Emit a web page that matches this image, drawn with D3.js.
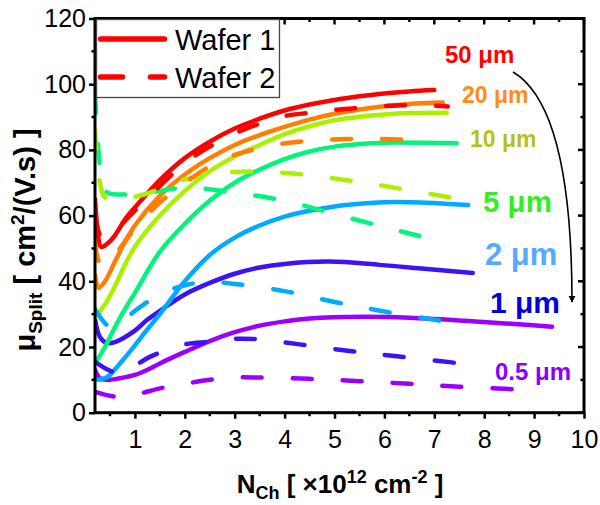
<!DOCTYPE html>
<html>
<head>
<meta charset="utf-8">
<script src="https://cdn.jsdelivr.net/npm/d3@7"></script>
<style>
  body { margin: 0; background: #fff; }
  svg { display: block; }
  text { font-family: "Liberation Sans", Arial, Helvetica, sans-serif; }
</style>
</head>
<body>
<svg id="chart" width="600" height="505"></svg>
<script>
// Split-CV mobility vs channel carrier density, two wafers, several gate widths
const xTickValues = [1, 2, 3, 4, 5, 6, 7, 8, 9, 10];
const yTickValues = [0, 20, 40, 60, 80, 100, 120];
const widthLabels = ["50 μm", "20 μm", "10 μm", "5 μm", "2 μm", "1 μm", "0.5 μm"];
const legendLabels = ["Wafer 1", "Wafer 2"];

// Wafer 1 (solid) — [N_ch (1e12 cm^-2), mobility (cm^2/V.s)]
const w1_50 = [[0.2,65],[0.25,56],[0.32,50.5],[0.45,51.5],[0.6,54],[0.8,58.8],[1,62.5],[1.5,70.8],[2,77.5],[2.5,82.5],[3,86.5],[3.5,89.5],[4,92],[4.5,93.8],[5,95.2],[5.5,96.3],[6,97.2],[6.5,97.8],[7,98.2]];
const w1_20 = [[0.2,42],[0.27,38],[0.4,40],[0.6,46],[0.8,52],[1,57],[1.5,66],[2,72.5],[2.5,77.5],[3,81.5],[3.5,84.5],[4,87],[4.5,89.2],[5,91],[5.5,92.3],[6,93.3],[6.5,94],[7.17,94.4]];
const w1_10 = [[0.2,29],[0.4,33],[0.6,38.5],[0.8,45],[1,50.5],[1.5,60],[2,67.5],[2.5,73.5],[3,78],[3.5,81.5],[4,84.8],[4.5,87.2],[5,89],[5.5,90.1],[6,90.8],[6.5,91.2],[7.25,91.3]];
const w1_5 = [[0.2,15],[0.4,20],[0.6,26],[0.8,31.5],[1,36.5],[1.5,49],[2,57.5],[2.5,64.5],[3,70],[3.5,74],[4,77.2],[4.5,79.5],[5,81],[5.5,81.8],[6,82.2],[7.45,82]];
const w1_2 = [[0.2,10],[0.44,10.8],[0.7,15],[1,20.5],[1.24,25.2],[1.5,30],[2,40],[2.5,48],[3,53.3],[3.5,57],[4,59.7],[4.5,61.5],[5,62.8],[5.5,63.6],[6,64.1],[6.5,64.1],[7,63.8],[7.68,63.2]];
const w1_1 = [[0.2,28.5],[0.3,23],[0.44,21.2],[0.6,21.5],[1,25],[1.24,28.2],[1.5,31],[2,36],[2.5,39.5],[3,42.3],[3.5,44.2],[4,45.3],[4.9,46],[5.9,45],[6.8,43.8],[7.77,42.5]];
const w1_05 = [[0.2,13],[0.3,10.5],[0.44,10],[0.7,10.5],[1,11.5],[1.24,13],[1.5,15],[2,18.5],[2.5,21.8],[3,24.5],[3.5,26.5],[4,27.8],[4.5,28.7],[5.6,29.2],[6.5,28.9],[7.9,27.7],[8.6,27],[9.36,26.2]];

// Wafer 2 (dashed)
const w2_50 = [[0.2,60],[0.35,53],[0.6,55.5],[1,61.5],[1.5,69],[2,76],[2.5,81],[3,85],[3.5,88],[4,90.3],[4.5,91.3],[5,92.2],[5.5,92.8],[6,93.3],[6.5,93.6],[7,93.5],[7.27,93.2]];
const w2_20 = [[0.2,52],[0.3,45.5],[0.45,45],[0.7,50],[1,56],[1.5,64],[2,70],[2.5,75],[3,78.5],[3.5,80.5],[4,82],[4.5,82.8],[5,83.2],[5.5,83.3],[6,83.3],[6.65,83]];
const w2_10 = [[0.2,86],[0.3,70],[0.4,65.5],[0.7,65],[1.2,66.5],[2,71],[3,73.3],[4,73],[5,71.3],[6,69],[7.4,65.3]];
const w2_5 = [[0.2,97],[0.3,75],[0.4,67.5],[1,66.5],[2,68.5],[3,67],[4,64.5],[5,60.5],[6,56.5],[6.9,53]];
const w2_2 = [[0.2,31.5],[0.5,26],[0.7,27],[1,31],[1.5,36],[2,38.8],[2.5,39.8],[3,39.2],[4,37],[5,33.7],[6,30.8],[7.25,27.7]];
const w2_1 = [[0.2,15.5],[0.6,12.3],[0.9,13.5],[1.3,17],[2,20.8],[2.5,21.6],[3,22.5],[3.5,22.3],[4.3,20.8],[5.3,18.8],[6.3,17.1],[7.65,14.8]];
const w2_05 = [[0.2,6.3],[0.6,4.9],[1,5.5],[1.5,7.4],[2,8.8],[2.5,10],[3,10.7],[3.5,10.7],[4.5,10.3],[5.5,9.6],[6.5,8.8],[7.5,7.9],[8.8,7]];

const lineColors = ["#ff0000", "#ff7f00", "#aaf000", "#00f57a", "#00aaff", "#3d12f5", "#9b00ff"];
const labelColors = ["#ff0000", "#ff8c1a", "#b4c31c", "#33ee22", "#55aaff", "#0000dd", "#8a00ff"];

const series = widthLabels.map((label, i) => ({
  label,
  lineColor: lineColors[i],
  labelColor: labelColors[i],
  wafer1: [w1_50, w1_20, w1_10, w1_5, w1_2, w1_1, w1_05][i],
  wafer2: [w2_50, w2_20, w2_10, w2_5, w2_2, w2_1, w2_05][i]
}));

// Layout
const plot = { left: 95, right: 584, top: 18.5, bottom: 412.7 };
const labelLayout = [
  { x: 445, y: 63, size: 24 },
  { x: 462, y: 103, size: 23 },
  { x: 470, y: 147, size: 23 },
  { x: 483, y: 212, size: 29.5 },
  { x: 485, y: 265, size: 31 },
  { x: 490, y: 313, size: 30 },
  { x: 495, y: 380, size: 24 }
];

const svg = d3.select("#chart");
const x = d3.scaleLinear().domain([0.2, 10]).range([plot.left, plot.right]);
const y = d3.scaleLinear().domain([0, 120]).range([plot.bottom, plot.top]);

const defs = svg.append("defs");
defs.append("clipPath").attr("id", "plotClip")
  .append("rect")
  .attr("x", plot.left).attr("y", plot.top)
  .attr("width", plot.right - plot.left).attr("height", plot.bottom - plot.top);

const line = d3.line()
  .x(d => x(d[0])).y(d => y(d[1]))
  .curve(d3.curveCatmullRom.alpha(0.5));

const curves = svg.append("g").attr("clip-path", "url(#plotClip)");
const strokeW = 4.5;

// solid (wafer 1) below, dashed (wafer 2) above
series.slice().reverse().forEach(s => {
  curves.append("path")
    .attr("d", line(s.wafer1))
    .attr("fill", "none")
    .attr("stroke", s.lineColor)
    .attr("stroke-width", strokeW)
    .attr("stroke-linecap", "round")
    .attr("stroke-linejoin", "round");
});
series.slice().reverse().forEach(s => {
  curves.append("path")
    .attr("d", line(s.wafer2))
    .attr("fill", "none")
    .attr("stroke", s.lineColor)
    .attr("stroke-width", strokeW)
    .attr("stroke-dasharray", "19,31")
    .attr("stroke-linecap", "round")
    .attr("stroke-linejoin", "round");
});

// Axes
const axisW = 3;
const xMinor = d3.range(0.5, 10, 0.5).filter(v => v % 1 !== 0);
const yMinor = d3.range(10, 120, 20);

const bottomAxis = d3.axisBottom(x).tickValues(xTickValues).tickSize(6).tickPadding(12).tickFormat(d3.format("d"));
const leftAxis = d3.axisLeft(y).tickValues(yTickValues).tickSize(6).tickPadding(3).tickFormat(d3.format("d"));

function styleAxis(g) {
  g.select(".domain").remove();
  g.selectAll(".tick line").attr("stroke", "#000").attr("stroke-width", 2.5);
  g.selectAll(".tick text").attr("fill", "#000").attr("font-size", 25)
    .style("font-family", "\"Liberation Sans\", Arial, sans-serif");
}

svg.append("g").attr("transform", `translate(0,${plot.bottom})`).call(bottomAxis).call(styleAxis);
svg.append("g").attr("transform", `translate(${plot.left},0)`).call(leftAxis).call(styleAxis);

// minor ticks (outward on bottom/left, inward on top/right)
const ticks = svg.append("g").attr("stroke", "#000").attr("stroke-width", 2.5);
xMinor.forEach(v => {
  ticks.append("line").attr("x1", x(v)).attr("x2", x(v)).attr("y1", plot.bottom).attr("y2", plot.bottom + 3.5);
  ticks.append("line").attr("x1", x(v)).attr("x2", x(v)).attr("y1", plot.top).attr("y2", plot.top + 3.5);
});
xTickValues.forEach(v => {
  ticks.append("line").attr("x1", x(v)).attr("x2", x(v)).attr("y1", plot.top).attr("y2", plot.top + 6);
});
yMinor.forEach(v => {
  ticks.append("line").attr("x1", plot.left).attr("x2", plot.left - 3.5).attr("y1", y(v)).attr("y2", y(v));
  ticks.append("line").attr("x1", plot.right).attr("x2", plot.right - 3.5).attr("y1", y(v)).attr("y2", y(v));
});
yTickValues.forEach(v => {
  ticks.append("line").attr("x1", plot.right).attr("x2", plot.right - 6).attr("y1", y(v)).attr("y2", y(v));
});

// frame
svg.append("rect")
  .attr("x", plot.left).attr("y", plot.top)
  .attr("width", plot.right - plot.left).attr("height", plot.bottom - plot.top)
  .attr("fill", "none").attr("stroke", "#000").attr("stroke-width", axisW);

// Legend
const legend = svg.append("g");
legend.append("rect")
  .attr("x", 96.5).attr("y", plot.top + 1)
  .attr("width", 183).attr("height", 78)
  .attr("fill", "#fff").attr("stroke", "#444").attr("stroke-width", 1.3);
legendLabels.forEach((name, i) => {
  const ly = [39, 77][i];
  legend.append("line")
    .attr("x1", 100.5).attr("x2", 164.5).attr("y1", ly).attr("y2", ly)
    .attr("stroke", lineColors[0]).attr("stroke-width", 5.5)
    .attr("stroke-linecap", "round")
    .attr("stroke-dasharray", i === 1 ? "22,28" : null);
  legend.append("text")
    .attr("x", 175).attr("y", ly + 10.5)
    .attr("font-size", 29).attr("fill", "#000")
    .text(name);
});

// Gate-width labels
series.forEach((s, i) => {
  const p = labelLayout[i];
  svg.append("text")
    .attr("x", p.x).attr("y", p.y)
    .attr("font-size", p.size).attr("font-weight", "bold")
    .attr("fill", s.labelColor)
    .text(s.label);
});

// Arrow indicating decreasing width
defs.append("marker")
  .attr("id", "arrowHead")
  .attr("viewBox", "0 0 10 10")
  .attr("refX", 9).attr("refY", 5)
  .attr("markerWidth", 7).attr("markerHeight", 9)
  .attr("markerUnits", "userSpaceOnUse")
  .attr("orient", "auto")
  .append("path").attr("d", "M0,0 L10,5 L0,10 Z").attr("fill", "#000");
svg.append("path")
  .attr("d", "M513,72 C552,95 572,170 572,302")
  .attr("fill", "none").attr("stroke", "#000").attr("stroke-width", 1.6)
  .attr("marker-end", "url(#arrowHead)");

// Axis titles
const xTitle = svg.append("text")
  .attr("x", 340).attr("y", 493)
  .attr("text-anchor", "middle")
  .attr("font-size", 26).attr("font-weight", "bold");
xTitle.append("tspan").text("N");
xTitle.append("tspan").attr("font-size", 18).attr("dy", 6).text("Ch");
xTitle.append("tspan").attr("dy", -6).text(" [ ×10");
xTitle.append("tspan").attr("font-size", 18).attr("dy", -10).text("12");
xTitle.append("tspan").attr("dy", 10).text(" cm");
xTitle.append("tspan").attr("font-size", 18).attr("dy", -10).text("-2");
xTitle.append("tspan").attr("dy", 10).text(" ]");

const yTitle = svg.append("text")
  .attr("transform", "translate(35,240) rotate(-90)")
  .attr("text-anchor", "middle")
  .attr("font-size", 29).attr("font-weight", "bold");
yTitle.append("tspan").text("μ");
yTitle.append("tspan").attr("font-size", 19).attr("dy", 7).text("Split");
yTitle.append("tspan").attr("dy", -7).text(" [ cm");
yTitle.append("tspan").attr("font-size", 19).attr("dy", -11).text("2");
yTitle.append("tspan").attr("dy", 11).text("/(V.s) ]");
</script>
</body>
</html>
